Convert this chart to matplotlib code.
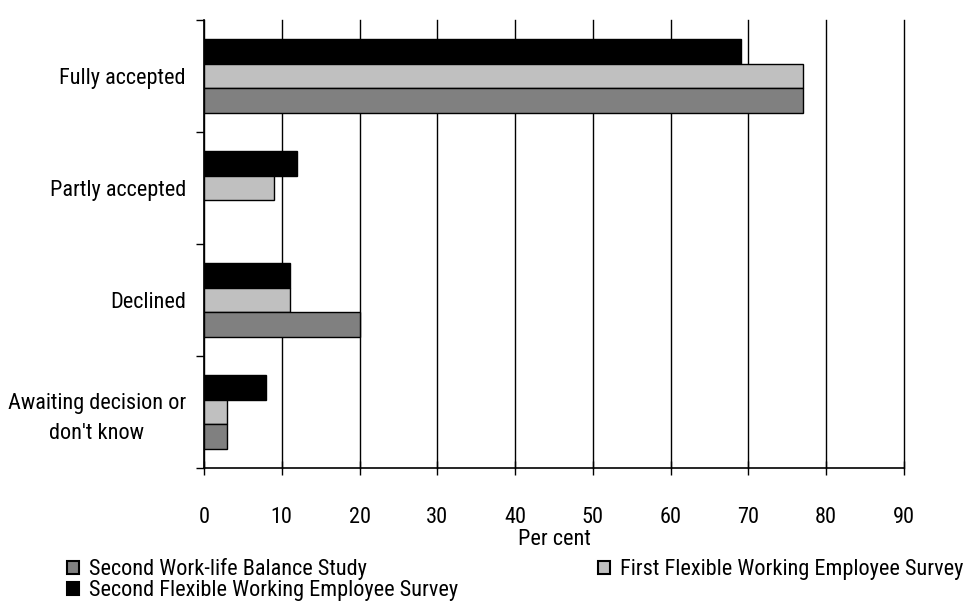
"""
Outcome of flexible working requests, horizontal grouped bars
"""

import numpy as np
import matplotlib.pyplot as plt
from matplotlib.patches import Patch

plt.rcParams['font.family'] = ['Roboto Condensed', 'Liberation Sans', 'DejaVu Sans']

categories = ['Fully accepted', 'Partly accepted', 'Declined', "Awaiting decision or\ndon't know"]
series_names = ['Second Work-life Balance Study',
                'Second Flexible Working Employee Survey',
                'First Flexible Working Employee Survey']
wlb2 = [77, 0, 20, 3]
fwes2 = [69, 12, 11, 8]
fwes1 = [77, 9, 11, 3]
x_ticks = [0, 10, 20, 30, 40, 50, 60, 70, 80, 90]

fig = plt.figure(figsize=(9.74, 6.08), dpi=100)
ax = fig.add_axes([0.2094, 0.2303, 0.7187, 0.7368])

y = np.arange(len(categories))
h = 0.22
ec = dict(edgecolor='black', linewidth=1.0, zorder=3)
# top to bottom within a group: black, light, dark
ax.barh(y - h, fwes2, height=h, color='#000000', **ec)
ax.barh(y, fwes1, height=h, color='#c0c0c0', **ec)
ax.barh(y + h, [v if v > 0 else np.nan for v in wlb2], height=h, color='#808080', **ec)

ax.set_ylim(len(categories) - 0.5, -0.5)
ax.set_xlim(0, 90)

ax.set_xticks(x_ticks)
ax.xaxis.grid(True, color='black', linewidth=1.0, zorder=0)
for gl in ax.get_xgridlines():
    gl.set_clip_on(False)
ax.set_axisbelow(True)
ax.tick_params(axis='x', direction='inout', length=10, width=1, pad=23, labelsize=16)
ax.set_xlabel('Per cent', fontsize=16, labelpad=1)

ax.set_yticks(y)
ax.set_yticklabels(categories, fontsize=16, multialignment='center', linespacing=1.55)
ax.tick_params(axis='y', which='major', length=0, pad=13)
ax.set_yticks(np.arange(-0.5, len(categories)), minor=True)
ax.tick_params(axis='y', which='minor', length=6, width=1, direction='out')

for s in ['top', 'right']:
    ax.spines[s].set_visible(False)
for s in ['left', 'bottom']:
    ax.spines[s].set_linewidth(1.2)

handles = [Patch(facecolor='#808080', edgecolor='black', linewidth=1.5),
           Patch(facecolor='#000000', edgecolor='black', linewidth=1.5),
           Patch(facecolor='#c0c0c0', edgecolor='black', linewidth=1.5)]
labels = [series_names[0], series_names[1], series_names[2]]
fig.legend(handles, labels, loc='upper left', bbox_to_anchor=(0.057, 0.1), ncol=2,
           frameon=False, fontsize=16, handlelength=0.55, handleheight=0.55,
           handletextpad=0.45, columnspacing=6.3, labelspacing=0.0, borderpad=0)

plt.savefig('out.png', dpi=100)
